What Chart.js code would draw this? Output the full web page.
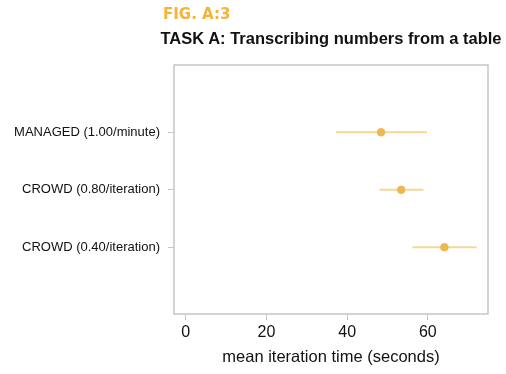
<!DOCTYPE html>
<html>
<head>
<meta charset="utf-8">
<script src="https://cdn.jsdelivr.net/npm/chart.js@4.4.1/dist/chart.umd.min.js"></script>
<style>
  html, body { margin: 0; padding: 0; background: #fff; }
  #wrap { position: relative; width: 506px; height: 374px; overflow: hidden; }
  #fig { position: absolute; left: 163px; top: 5px; font: bold 15px "DejaVu Sans", sans-serif; color: #f6b335; letter-spacing: 0px; }
  #title { position: absolute; left: 0; width: 662px; top: 29px; text-align: center; font: bold 16.5px "Liberation Sans", Arial, sans-serif; color: #111; }
  canvas { position: absolute; left: 0; top: 0; }
</style>
</head>
<body>
<div id="wrap">
  <canvas id="chart" width="506" height="374"></canvas>
  <div id="fig">FIG. A:3</div>
  <div id="title">TASK A: Transcribing numbers from a table</div>
</div>
<script>
"use strict";

// values
const categories = ["MANAGED (1.00/minute)", "CROWD (0.80/iteration)", "CROWD (0.40/iteration)"];
const meanTime   = [48.4, 53.4, 64.1];
const lowerBound = [37.2, 48.0, 56.2];
const upperBound = [59.8, 58.9, 72.1];
const xTicks     = [0, 20, 40, 60];

const POINT_COLOR = "#ecb84f";
const BAR_COLOR   = "#f5d796";
const FRAME_COLOR = "#c6c6c6";
const FONT        = "'Liberation Sans', Arial, sans-serif";

// one small line dataset per error bar
const errorBars = categories.map((c, i) => ({
  type: "line",
  data: [{ x: lowerBound[i], y: i + 1 }, { x: upperBound[i], y: i + 1 }],
  borderColor: BAR_COLOR,
  borderWidth: 2,
  pointRadius: 0,
  showLine: true,
  order: 2,
}));

const frame = {
  id: "frame",
  afterDraw(chart) {
    const { ctx, chartArea: a } = chart;
    ctx.save();
    ctx.strokeStyle = FRAME_COLOR;
    ctx.lineWidth = 1.5;
    ctx.strokeRect(a.left, a.top, a.right - a.left, a.bottom - a.top);
    ctx.restore();
  },
};

new Chart(document.getElementById("chart"), {
  type: "scatter",
  data: {
    datasets: [
      ...errorBars,
      {
        type: "scatter",
        data: meanTime.map((v, i) => ({ x: v, y: i + 1 })),
        backgroundColor: POINT_COLOR,
        borderColor: POINT_COLOR,
        pointRadius: 3.8,
        order: 1,
      },
    ],
  },
  options: {
    responsive: false,
    animation: false,
    layout: { padding: { top: 65, right: 18, left: 0, bottom: 0 } },
    plugins: { legend: { display: false }, tooltip: { enabled: false } },
    scales: {
      x: {
        type: "linear",
        min: -2.9,
        max: 74.9,
        afterBuildTicks: s => { s.ticks = xTicks.map(v => ({ value: v })); },
        afterFit: s => { s.height = 60; },
        grid: { drawOnChartArea: false, drawTicks: true, tickLength: 6, color: FRAME_COLOR },
        border: { display: false },
        ticks: { color: "#111", font: { family: FONT, size: 16 }, padding: 3 },
        title: { display: true, text: "mean iteration time (seconds)", color: "#111", font: { family: FONT, size: 16.5 }, padding: { bottom: 7 } },
      },
      y: {
        type: "linear",
        reverse: true,
        min: -0.17,
        max: 4.16,
        afterBuildTicks: s => { s.ticks = categories.map((c, i) => ({ value: i + 1 })); },
        afterFit: s => { s.width = 174; },
        grid: { drawOnChartArea: false, drawTicks: true, tickLength: 6, color: FRAME_COLOR },
        border: { display: false },
        ticks: { color: "#111", font: { family: FONT, size: 13 }, padding: 8, callback: v => categories[v - 1] },
      },
    },
  },
  plugins: [frame],
});
</script>
</body>
</html>
